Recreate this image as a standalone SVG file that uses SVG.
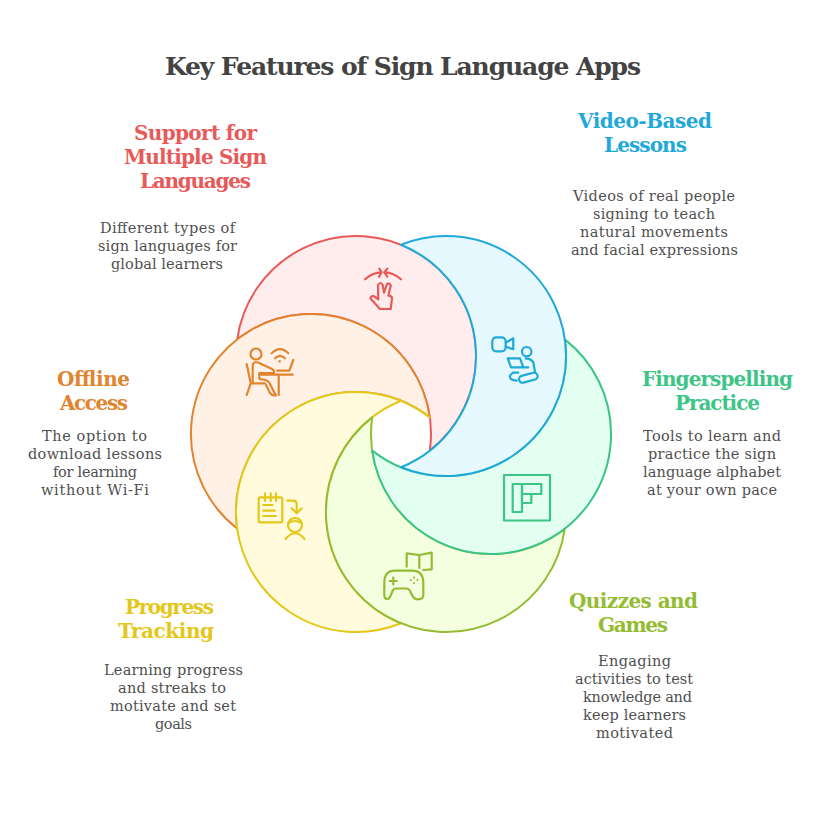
<svg xmlns="http://www.w3.org/2000/svg" width="828" height="840" viewBox="0 0 828 840">
<style>
text{font-family:"DejaVu Serif","Liberation Serif",serif;text-anchor:middle}
.t{font-size:25px;font-weight:700;fill:#434343}
.h{font-size:20px;font-weight:700}
.d{font-size:14.500px;fill:#505050}
.c{stroke-width:2;stroke-linejoin:round}
.i{fill:none;stroke-width:2.200;stroke-linecap:round;stroke-linejoin:round}
.red{fill:#ffecec;stroke:#e85a5a}.blue{fill:#e6f9ff;stroke:#1fa9d9}.green{fill:#e2fff1;stroke:#3cc586}
.lime{fill:#f3ffdf;stroke:#94bc32}.yellow{fill:#fffbdc;stroke:#e3c81a}.orange{fill:#fff1e6;stroke:#e0842f}
.ired{stroke:#e85a5a}.iblue{stroke:#1fa9d9}.igreen{stroke:#3cc586}.ilime{stroke:#94bc32}.iyellow{stroke:#e3c81a}.iorange{stroke:#e0842f}
</style>
<rect width="828" height="840" fill="#fff"/>
<text class="t" x="403" y="75" textLength="476">Key Features of Sign Language Apps</text>
<g id="crescents-connectors">
<path class="c red" d="M237.2 339.4A120 120 0 1 1 429.8 450.6A120 120 0 0 0 237.2 339.4Z"/>
<path class="c orange" d="M237.2 528.6A120 120 0 1 1 429.8 417.4A120 120 0 0 0 237.2 528.6Z"/>
<path class="c yellow" d="M401 623.24A120 120 0 1 1 401 400.76A120 120 0 0 0 401 623.24Z"/>
<path class="i iyellow" d="M401 400.76A120 120 0 0 1 429.8 417.4" stroke-linecap="butt" style="stroke-width:2"/>
<path class="c lime" d="M564.8 528.6A120 120 0 1 1 372.2 417.4A120 120 0 0 0 564.8 528.6Z"/>
<path class="c green" d="M564.8 339.4A120 120 0 1 1 372.2 450.6A120 120 0 0 0 564.8 339.4Z"/>
<path class="c blue" d="M401 244.76A120 120 0 1 1 401 467.24A120 120 0 0 0 401 244.76Z"/>
</g>
<g id="node-support">
<text class="h" fill="#e85a5a" x="195.500" y="140" textLength="123">Support for</text>
<text class="h" fill="#e85a5a" x="195.500" y="164" textLength="143">Multiple Sign</text>
<text class="h" fill="#e85a5a" x="195.500" y="188" textLength="111">Languages</text>
<text class="d" x="167.500" y="233" textLength="135">Different types of</text>
<text class="d" x="167.500" y="251" textLength="139">sign languages for</text>
<text class="d" x="167" y="269" textLength="112">global learners</text>
<g class="i ired">
<path d="M365 279.3Q372 272.5 381.700 272.300M379.300 268.700L381.700 272.300L379 276.700M401 279.300Q394 272.500 384.300 272.300M387.300 268.700L384.300 272.300L387.300 276.700"/>
<path d="M380 309H390.700L392 298.300Q392 296 388.300 295.700L390.800 285.500Q389 282.500 387 284L384 292.700L382.700 285Q380.500 281 378 285L378.300 299.300L373.500 296Q370 296 370.700 298.800Z"/>
</g>
</g>
<g id="node-video">
<text class="h" fill="#1fa9d9" x="645" y="128" textLength="134">Video-Based</text>
<text class="h" fill="#1fa9d9" x="645.500" y="152" textLength="83">Lessons</text>
<text class="d" x="654" y="201" textLength="162">Videos of real people</text>
<text class="d" x="654" y="219" textLength="122">signing to teach</text>
<text class="d" x="654" y="237" textLength="148">natural movements</text>
<text class="d" x="654.500" y="255" textLength="167">and facial expressions</text>
<g class="i iblue">
<rect x="492.300" y="337.300" width="13.400" height="14" rx="4"/>
<path d="M505.700 342.700L513.300 338.300V349.300L505.700 346.700"/>
<circle cx="526.700" cy="351.700" r="4.700"/>
<path d="M507.700 358.300H520L523.300 367.300H511ZM511 367.300H528.300M525.700 358.300Q532 359 533.300 362.500L535 371.700M518.300 372.700H513Q508 376 511 379Q513 380.500 516.700 380.700"/>
<rect x="-9.500" y="-3.500" width="19" height="7" rx="3.500" transform="translate(528.300 377.700) rotate(-15)"/>
</g>
</g>
<g id="node-fingerspelling">
<text class="h" fill="#3cc586" x="717.500" y="386" textLength="151">Fingerspelling</text>
<text class="h" fill="#3cc586" x="717.500" y="410" textLength="85">Practice</text>
<text class="d" x="712" y="441" textLength="138">Tools to learn and</text>
<text class="d" x="712" y="459" textLength="128">practice the sign</text>
<text class="d" x="712" y="477" textLength="138">language alphabet</text>
<text class="d" x="712" y="495" textLength="130">at your own pace</text>
<g class="i igreen" stroke-linecap="square" stroke-linejoin="miter">
<rect x="504" y="475" width="46" height="45.500"/>
<rect x="512.700" y="484" width="9.300" height="28"/>
<rect x="522" y="484" width="19.300" height="10"/>
<rect x="522" y="494" width="9.300" height="9"/>
</g>
</g>
<g id="node-quizzes">
<text class="h" fill="#94bc32" x="633.500" y="608" textLength="129">Quizzes and</text>
<text class="h" fill="#94bc32" x="633" y="632" textLength="70">Games</text>
<text class="d" x="634.500" y="666" textLength="73">Engaging</text>
<text class="d" x="634" y="684" textLength="118">activities to test</text>
<text class="d" x="637.500" y="702" textLength="109">knowledge and</text>
<text class="d" x="634.500" y="720" textLength="103">keep learners</text>
<text class="d" x="634.500" y="738" textLength="77">motivated</text>
<g class="i ilime">
<path d="M406.700 566.700V553.300L419.300 555L431.700 552.700V569.300L423.300 570M419.300 555V568"/>
<path d="M395 570.700H412Q423.300 570.700 423.300 583V595Q423.300 599.300 418 599.300Q414 599.300 412 595L409.500 590Q408.500 588.500 406 588.500H401.500H396Q394 588.500 393 590L390.500 596Q389 599.300 387 599Q384.300 599 384.300 595V583Q384.300 570.700 395 570.700Z"/>
<path d="M393.300 577.500V584.500M389.800 581H396.800"/>
</g>
<g fill="#94bc32"><circle cx="414" cy="577.500" r="1.100"/><circle cx="417.500" cy="580" r="1.100"/><circle cx="414" cy="583" r="1.100"/><circle cx="410.800" cy="580" r="1.100"/></g>
</g>
<g id="node-progress">
<text class="h" fill="#e3c81a" x="169.500" y="614" textLength="89">Progress</text>
<text class="h" fill="#e3c81a" x="166" y="638" textLength="96">Tracking</text>
<text class="d" x="173.500" y="675" textLength="139">Learning progress</text>
<text class="d" x="172" y="693" textLength="108">and streaks to</text>
<text class="d" x="173" y="711" textLength="126">motivate and set</text>
<text class="d" x="173.500" y="729" textLength="37">goals</text>
<g class="i iyellow">
<rect x="258.700" y="497.300" width="23.600" height="25" rx="1.500"/>
<path d="M265 493.300V501M270.700 493.300V501M276 493.300V501M263.300 505H272.700M263.300 510.700H275M263.300 516H276"/>
<path d="M287.300 500.700H293Q296.700 500.700 296.700 504V513.300M291.700 508.300L296.700 513.300L301.700 508.300"/>
<circle cx="295" cy="525" r="7"/>
<path d="M288.500 523Q295 519 301.500 523M285.500 539Q295 527.500 304.500 539"/>
</g>
</g>
<g id="node-offline">
<text class="h" fill="#e0842f" x="93.500" y="386" textLength="73">Offline</text>
<text class="h" fill="#e0842f" x="94" y="410" textLength="68">Access</text>
<text class="d" x="94.500" y="441" textLength="105">The option to</text>
<text class="d" x="95" y="459" textLength="134">download lessons</text>
<text class="d" x="95" y="477" textLength="84">for learning</text>
<text class="d" x="95" y="495" textLength="108">without Wi-Fi</text>
<g class="i iorange">
<circle cx="256" cy="354" r="5.500"/>
<path d="M271.700 353.300Q280 345 288.300 353.300M275 358.300Q280 353.500 285 358.300"/>
<path d="M293.300 360L289.300 370.700H277.300M259.300 374.700H292.700M278.700 374.700V395M246.700 364L250.700 383.300L246.700 395M250.700 383.300H265"/>
<path d="M252.700 383.300V365Q253 361.500 258 362.500L272 369Q275 371 274 373H259.300V378Q259.300 379.500 263 379.500Q268 380 270 384L274.500 393Q277 396 274.500 395.500Q272 395.500 270 393L266 385"/>
</g>
<circle cx="279.700" cy="361.300" r="1.200" fill="#e0842f"/>
</g>
</svg>
